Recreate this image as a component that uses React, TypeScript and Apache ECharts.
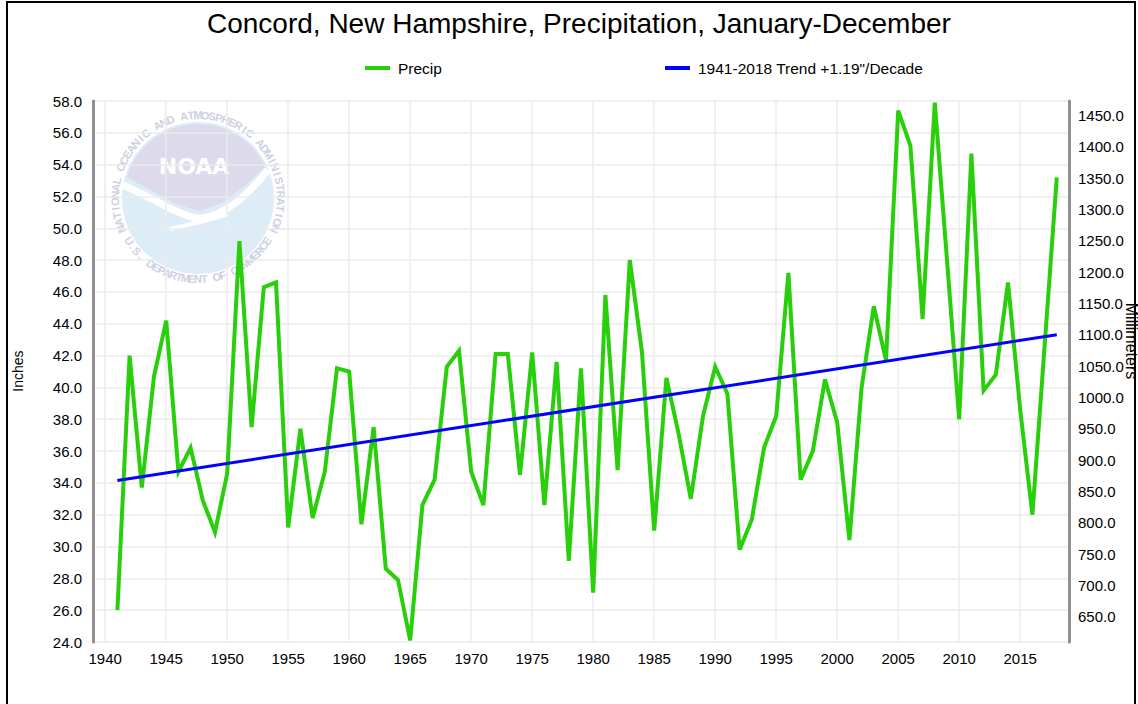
import React, { useEffect, useRef } from "react";
import * as echarts from "echarts";

const FONT = '"Liberation Sans", Arial, sans-serif';

const TITLE = "Concord, New Hampshire, Precipitation, January-December";
const SERIES_PRECIP = "Precip";
const SERIES_TREND = '1941-2018 Trend +1.19"/Decade';

const years = [
  1941, 1942, 1943, 1944, 1945, 1946, 1947, 1948, 1949, 1950,
  1951, 1952, 1953, 1954, 1955, 1956, 1957, 1958, 1959, 1960,
  1961, 1962, 1963, 1964, 1965, 1966, 1967, 1968, 1969, 1970,
  1971, 1972, 1973, 1974, 1975, 1976, 1977, 1978, 1979, 1980,
  1981, 1982, 1983, 1984, 1985, 1986, 1987, 1988, 1989, 1990,
  1991, 1992, 1993, 1994, 1995, 1996, 1997, 1998, 1999, 2000,
  2001, 2002, 2003, 2004, 2005, 2006, 2007, 2008, 2009, 2010,
  2011, 2012, 2013, 2014, 2015, 2016, 2017, 2018,
];

const precipInches = [
  26.0, 42.0, 33.7, 40.7, 44.2, 34.7, 36.2, 32.9, 30.9, 34.6,
  49.2, 37.5, 46.3, 46.6, 31.2, 37.4, 31.8, 34.7, 41.2, 41.0,
  31.4, 37.5, 28.6, 27.9, 24.1, 32.6, 34.2, 41.3, 42.3, 34.7,
  32.6, 42.1, 42.1, 34.5, 42.2, 32.6, 41.6, 29.1, 41.2, 27.1,
  45.8, 34.8, 48.0, 42.2, 31.0, 40.6, 37.1, 33.0, 38.2, 41.3,
  39.6, 29.8, 31.7, 36.2, 38.2, 47.2, 34.2, 36.0, 40.5, 37.8,
  30.4, 40.0, 45.1, 41.7, 57.4, 55.2, 44.3, 57.9, 48.0, 38.0,
  54.7, 39.8, 40.8, 46.6, 38.6, 32.0, 42.6, 53.2,
];

const trendYears = [1941, 2018];
const trendInches = [34.15, 43.31];

const INCH_MIN = 24;
const INCH_MAX = 58;
const MM_PER_INCH = 25.4;

function ringText(
  text: string,
  cx: number,
  cy: number,
  r: number,
  startDeg: number,
  endDeg: number,
  bottom: boolean
) {
  const els: any[] = [];
  const n = text.length;
  for (let i = 0; i < n; i++) {
    const ch = text[i];
    if (ch === " ") continue;
    const deg = startDeg + ((endDeg - startDeg) * i) / (n - 1);
    const a = (deg * Math.PI) / 180;
    const x = cx + r * Math.cos(a);
    const y = cy - r * Math.sin(a);
    const rot = bottom ? a + Math.PI / 2 : a - Math.PI / 2;
    els.push({
      type: "text",
      x,
      y,
      rotation: rot,
      silent: true,
      z: -4,
      style: {
        text: ch,
        fontSize: 11,
        fontWeight: "bold",
        fontFamily: FONT,
        fill: "#cfcfe2",
        align: "center",
        verticalAlign: "middle",
      },
    });
  }
  return els;
}

function logoElements() {
  const cx = 198;
  const cy = 198;
  const domePts: number[][] = [];
  for (let d = 164; d >= 26; d -= 4) {
    const a = (d * Math.PI) / 180;
    domePts.push([cx + 74 * Math.cos(a), cy - 74 * Math.sin(a)]);
  }
  const wave = [
    [265, 167],
    [246, 185],
    [224, 202],
    [200, 211],
    [178, 205],
    [152, 191],
    [126, 177],
  ];
  const els: any[] = [
    {
      type: "circle",
      silent: true,
      z: -6,
      shape: { cx, cy, r: 76 },
      style: { fill: "#dcedf8" },
    },
    {
      type: "polygon",
      silent: true,
      z: -5,
      shape: { points: domePts.concat(wave) },
      style: { fill: "#dcdaeb" },
    },
    {
      type: "polyline",
      silent: true,
      z: -5,
      shape: {
        points: [
          [121, 184],
          [150, 198],
          [178, 212],
          [200, 218],
          [228, 208],
          [250, 190],
          [268, 170],
        ],
        smooth: 0.4,
      },
      style: { stroke: "#ffffff", lineWidth: 7, fill: "none" },
    },
    {
      type: "polyline",
      silent: true,
      z: -5,
      shape: {
        points: [
          [170, 229],
          [200, 222],
          [228, 214],
        ],
        smooth: 0.4,
      },
      style: { stroke: "#ffffff", lineWidth: 4, fill: "none" },
    },
    {
      type: "text",
      silent: true,
      z: -4,
      x: 194,
      y: 166,
      style: {
        text: "NOAA",
        fontSize: 22,
        fontWeight: "bold",
        fontFamily: '"DejaVu Sans", sans-serif',
        fill: "#ffffff",
        align: "center",
        verticalAlign: "middle",
      },
    },
  ];
  return els
    .concat(
      ringText(
        "NATIONAL OCEANIC AND ATMOSPHERIC ADMINISTRATION",
        cx,
        cy,
        83,
        202,
        -22,
        false
      )
    )
    .concat(ringText("U.S. DEPARTMENT OF COMMERCE", cx, cy, 81, 212, 328, true));
}

export default function App() {
  const ref = useRef<HTMLDivElement>(null);

  useEffect(() => {
    if (!ref.current) return;
    const chart = echarts.init(ref.current, null, { renderer: "svg" });

    const precipData = years.map((y, i) => [y, precipInches[i]]);
    const trendData = trendYears.map((y, i) => [y, trendInches[i]]);

    const gridLine = { color: "#ebebeb", width: 1.5 };
    const axisLineStyle = { color: "#909090", width: 3 };
    const labelStyle = { fontSize: 15, color: "#000", fontFamily: FONT };
    const legendText = {
      fontSize: 15.5,
      color: "#000",
      fontFamily: FONT,
      padding: [0, 0, 0, 3],
    };

    chart.setOption({
      animation: false,
      backgroundColor: "#ffffff",
      title: {
        text: TITLE,
        left: 207,
        top: 4,
        padding: [5, 0, 5, 0],
        textStyle: {
          fontSize: 28,
          fontWeight: "normal",
          color: "#000",
          fontFamily: FONT,
        },
      },
      legend: [
        {
          data: [SERIES_PRECIP],
          left: 360,
          top: 55,
          icon: "rect",
          itemWidth: 25,
          itemHeight: 4,
          selectedMode: false,
          textStyle: legendText,
        },
        {
          data: [SERIES_TREND],
          left: 660,
          top: 55,
          icon: "rect",
          itemWidth: 25,
          itemHeight: 4,
          selectedMode: false,
          textStyle: legendText,
        },
      ],
      grid: { left: 93, right: 69, top: 101, bottom: 62, containLabel: false },
      xAxis: {
        type: "value",
        min: 1939,
        max: 2019,
        splitNumber: 16,
        minInterval: 5,
        maxInterval: 5,
        axisLine: { show: false },
        axisTick: { show: false },
        axisLabel: {
          ...labelStyle,
          margin: 9,
          showMinLabel: false,
          showMaxLabel: false,
          formatter: (v: number) => (v % 5 === 0 ? String(v) : ""),
        },
        splitLine: { show: true, lineStyle: gridLine },
      },
      yAxis: [
        {
          type: "value",
          position: "left",
          min: INCH_MIN,
          max: INCH_MAX,
          interval: 2,
          axisLine: { show: true, lineStyle: axisLineStyle },
          axisTick: { show: false },
          axisLabel: {
            ...labelStyle,
            margin: 11,
            formatter: (v: number) => v.toFixed(1),
          },
          splitLine: { show: true, lineStyle: gridLine },
        },
        {
          type: "value",
          position: "right",
          min: INCH_MIN * MM_PER_INCH,
          max: INCH_MAX * MM_PER_INCH,
          splitNumber: 17,
          minInterval: 50,
          maxInterval: 50,
          axisLine: { show: true, lineStyle: axisLineStyle },
          axisTick: { show: false },
          axisLabel: {
            ...labelStyle,
            margin: 9,
            showMinLabel: false,
            showMaxLabel: false,
            formatter: (v: number) =>
              Math.abs(v % 50) < 1e-6 ? v.toFixed(1) : "",
          },
          splitLine: { show: false },
        },
      ],
      series: [
        {
          name: SERIES_PRECIP,
          type: "line",
          yAxisIndex: 0,
          data: precipData,
          showSymbol: false,
          symbol: "none",
          z: 3,
          itemStyle: { color: "#28cf0a" },
          lineStyle: { color: "#28cf0a", width: 4, join: "miter" },
        },
        {
          name: SERIES_TREND,
          type: "line",
          yAxisIndex: 0,
          data: trendData,
          showSymbol: false,
          symbol: "none",
          z: 4,
          itemStyle: { color: "#0000ff" },
          lineStyle: { color: "#0000ff", width: 3 },
        },
      ],
      graphic: [
        ...logoElements(),
        {
          type: "text",
          x: 18,
          y: 371,
          rotation: Math.PI / 2,
          silent: true,
          style: {
            text: "Inches",
            fontSize: 14,
            fontFamily: FONT,
            fill: "#000",
            align: "center",
            verticalAlign: "middle",
          },
        },
        {
          type: "text",
          x: 1131,
          y: 341,
          rotation: -Math.PI / 2,
          silent: true,
          style: {
            text: "Millimeters",
            fontSize: 16,
            fontFamily: FONT,
            fill: "#000",
            align: "center",
            verticalAlign: "middle",
          },
        },
        {
          type: "polyline",
          silent: true,
          shape: {
            points: [
              [7, 704],
              [7, 2],
              [1135, 2],
              [1135, 704],
            ],
          },
          style: { stroke: "#000", lineWidth: 2, fill: "none" },
        },
      ],
    });

    return () => chart.dispose();
  }, []);

  return (
    <div
      style={{
        position: "fixed",
        left: 0,
        top: 0,
        width: 1138,
        height: 704,
        background: "#fff",
      }}
    >
      <div ref={ref} style={{ width: 1138, height: 704 }} />
    </div>
  );
}
